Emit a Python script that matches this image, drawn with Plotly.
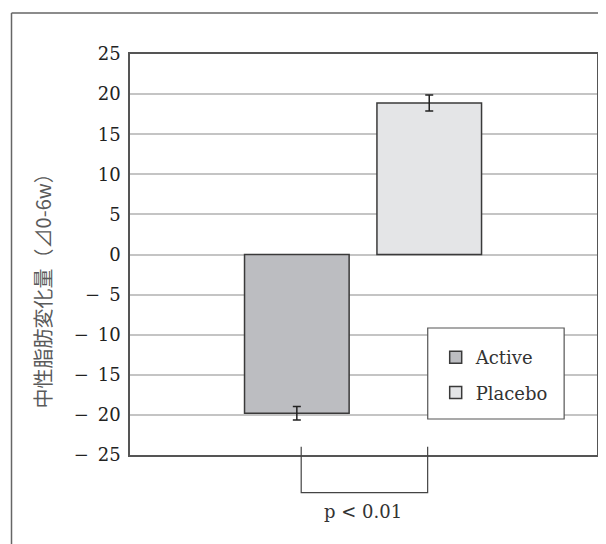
import plotly.graph_objects as go

# ---- data ----
groups = ["Active", "Placebo"]
values = [-19.8, 18.9]
errors = [0.85, 1.0]
bar_colors = ["#bcbdc1", "#e4e5e7"]
tick_vals = [25, 20, 15, 10, 5, 0, -5, -10, -15, -20, -25]
tick_text = ["25", "20", "15", "10", "5", "0",
             "−\u20025", "−\u200210", "−\u200215", "−\u200220", "−\u200225"]
y_title = "中性脂肪変化量（⊿0-6w）"
p_text = "p < 0.01"

OFF = 8  # page body margin
W, H = 606 - OFF, 544 - OFF
PL, PR, PT, PB = 130, 599, 54, 455   # plot box in page pixels
L, T = PL - OFF, PT - OFF
R, B = W - (PR - OFF), H - (PB - OFF)
pw, ph = PR - PL, PB - PT

def px(x):
    return (x - PL) / pw

def py(y):
    return (PB - y) / ph

serif = "DejaVu Serif, Liberation Serif, serif"

fig = go.Figure()
for i, g in enumerate(groups):
    fig.add_trace(go.Bar(
        x=[g], y=[values[i]], name=g, width=0.79,
        marker=dict(color=bar_colors[i], line=dict(color="#3a3a3a", width=1.5)),
        error_y=dict(type="data", array=[errors[i]], color="#222", thickness=1.5, width=4),
        legendgroup=g,
    ))

shapes = []
# significance bracket
shapes.append(dict(type="path", xref="x", yref="paper",
                   path=f"M 0.033,{py(446.7)} L 0.033,{py(492.7)} L 0.988,{py(492.7)} L 0.988,{py(446.7)}",
                   line=dict(color="#444", width=1.2)))
# outer frame (top and left edges)
shapes.append(dict(type="line", xref="paper", yref="paper",
                   x0=px(11), x1=px(620), y0=py(13), y1=py(13),
                   line=dict(color="#666", width=1.5)))
shapes.append(dict(type="line", xref="paper", yref="paper",
                   x0=px(11), x1=px(11), y0=py(13), y1=py(560),
                   line=dict(color="#666", width=1.5)))
# legend frame
shapes.append(dict(type="rect", xref="paper", yref="paper",
                   x0=px(429), x1=px(566), y0=py(328), y1=py(419),
                   fillcolor="white", line=dict(color="#555", width=1.2), layer="above"))

fig.update_layout(
    width=W, height=H,
    margin=dict(l=L, r=R, t=T, b=B),
    paper_bgcolor="white", plot_bgcolor="white",
    barmode="overlay",
    showlegend=True,
    legend=dict(
        x=px(437), y=py(339), xanchor="left", yanchor="top",
        bgcolor="rgba(0,0,0,0)", borderwidth=0,
        font=dict(family=serif, size=18, color="#333"),
        traceorder="grouped", tracegroupgap=9,
    ),
    xaxis=dict(range=[-1.26, 2.267], showticklabels=False, ticks="",
               showgrid=False, zeroline=False,
               showline=True, mirror=True, linecolor="#555", linewidth=1.5),
    yaxis=dict(range=[-25, 25], tickvals=tick_vals, ticktext=tick_text,
               tickfont=dict(family=serif, size=18, color="#222"),
               ticks="", ticklabelstandoff=4,
               showgrid=True, gridcolor="#c4c4c4", gridwidth=1.5,
               zeroline=False,
               showline=True, mirror=True, linecolor="#555", linewidth=1.5),
    shapes=shapes,
    annotations=[
        dict(text=y_title, xref="paper", yref="paper", x=px(42), y=py(286),
             xanchor="center", yanchor="middle",
             textangle=-90, showarrow=False,
             font=dict(family="Noto Sans CJK JP", size=20, color="#5a5a5a")),
        dict(text=p_text, xref="paper", yref="paper", x=px(364), y=py(512),
             xanchor="center", yanchor="middle",
             showarrow=False, font=dict(family=serif, size=18, color="#333")),
    ],
)

fig.write_html("out.html")
